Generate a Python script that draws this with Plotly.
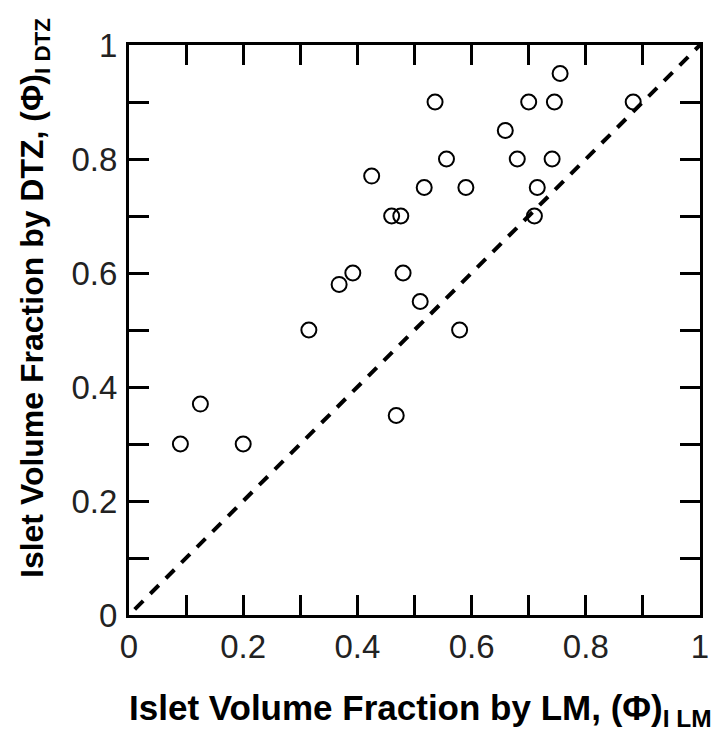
import plotly.graph_objects as go

lm = [0.09, 0.125, 0.20, 0.315, 0.368, 0.392, 0.425, 0.46, 0.476, 0.48, 0.468,
      0.51, 0.517, 0.536, 0.556, 0.579, 0.59, 0.659, 0.68, 0.70, 0.71, 0.715,
      0.741, 0.745, 0.755, 0.883]
dtz = [0.30, 0.37, 0.30, 0.50, 0.58, 0.60, 0.77, 0.70, 0.70, 0.60, 0.35,
       0.55, 0.75, 0.90, 0.80, 0.50, 0.75, 0.85, 0.80, 0.90, 0.70, 0.75,
       0.80, 0.90, 0.95, 0.90]
line_x = [0.01, 1.0]
line_y = [0.01, 1.0]
tick_vals = [0, 0.2, 0.4, 0.6, 0.8, 1.0]
tick_text = ["0", "0.2", "0.4", "0.6", "0.8", "1"]

fig = go.Figure()
fig.add_trace(go.Scatter(x=line_x, y=line_y, mode="lines",
                         line=dict(color="black", width=4, dash="12px,10px"),
                         showlegend=False, hoverinfo="skip"))
fig.add_trace(go.Scatter(x=lm, y=dtz, mode="markers",
                         marker=dict(symbol="circle-open", size=15,
                                     color="black", line=dict(width=2, color="black")),
                         showlegend=False))

axis_common = dict(range=[0, 1], tickvals=tick_vals, ticktext=tick_text,
                   ticks="inside", ticklen=20, tickwidth=3, tickcolor="black",
                   minor=dict(ticks="inside", ticklen=20, tickwidth=3, tickcolor="black",
                              dtick=0.1, tick0=0, showgrid=False),
                   showline=True, linewidth=3, linecolor="black", mirror="allticks",
                   showgrid=False, zeroline=False,
                   tickfont=dict(family="Liberation Sans, Arial", size=33, color="#222"))

fig.update_xaxes(**axis_common, ticklabelstandoff=0)
fig.update_yaxes(**axis_common, ticklabelstandoff=2)

fig.add_annotation(xref="paper", yref="paper", x=(127 - 129) / 571, y=(615 - 710) / 570,
                   xanchor="left", yanchor="middle", showarrow=False,
                   text="<b>Islet Volume Fraction by LM, (Φ)<sub>I </sub><sub>LM</sub></b>",
                   font=dict(family="Liberation Sans, Arial", size=35, color="black"))
fig.add_annotation(xref="paper", yref="paper", x=(34 - 129) / 571, y=(615 - 298) / 570,
                   xanchor="center", yanchor="middle", showarrow=False, textangle=-90,
                   text="<b>Islet Volume Fraction by DTZ, (Φ)<sub>I </sub><sub>DTZ</sub></b>",
                   font=dict(family="Liberation Sans, Arial", size=32, color="black"))

fig.update_layout(width=724, height=748, plot_bgcolor="white", paper_bgcolor="white",
                  margin=dict(l=129, r=24, t=45, b=133))

fig.write_html("out.html")
